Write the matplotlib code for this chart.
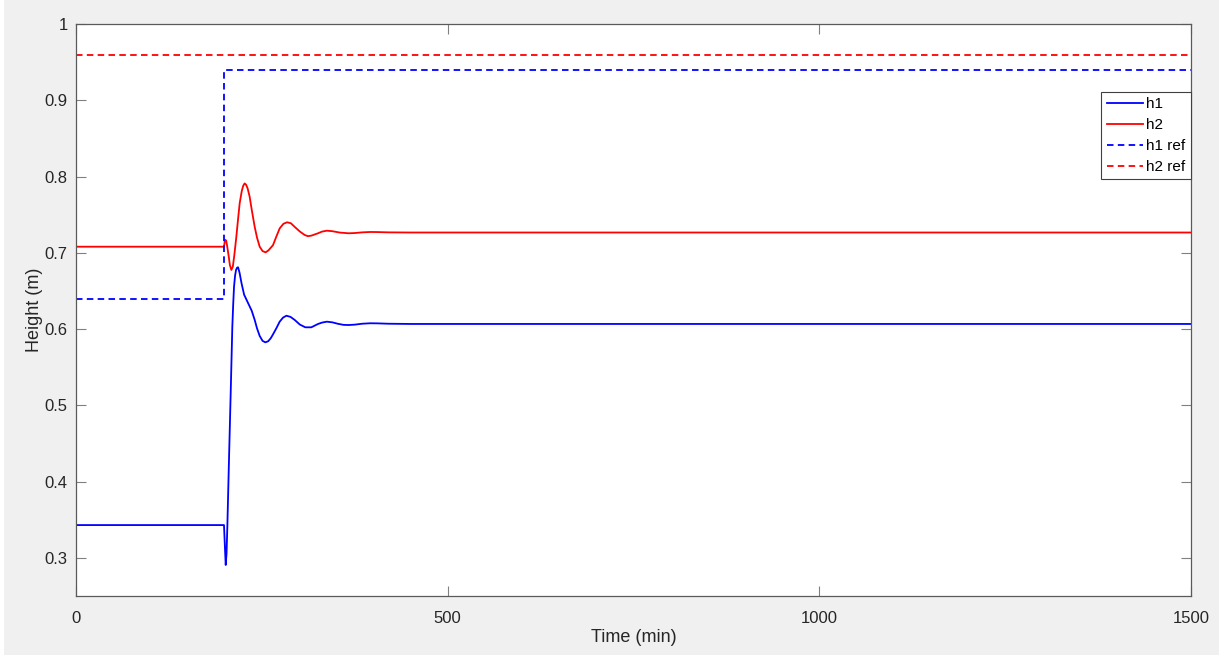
import matplotlib.pyplot as plt
from matplotlib.patches import Rectangle

# Tank level response to a setpoint step (values in m, time in min)
t_h1 = [0, 199.1, 200.3, 201.4, 202.5, 203.6, 205.8, 208.1, 210.3, 211.5,
        212.6, 214, 215.3, 216.7, 218, 220, 222.7, 226.2, 229.6, 233, 236.4,
        240.4, 243.5, 247.1, 251, 254.7, 258.5, 262, 265, 269.5, 274, 278.5,
        283, 288.5, 294.2, 301, 308.5, 316.6, 325.6, 331, 337.5, 345, 352, 360,
        366.7, 375, 385, 395.8, 405, 420, 450, 1500]
h1 = [0.343, 0.343, 0.315, 0.2907, 0.305, 0.341, 0.428, 0.516, 0.603, 0.633,
      0.6556, 0.670, 0.6775, 0.6805, 0.681, 0.674, 0.660, 0.645, 0.638, 0.631,
      0.624, 0.612, 0.601, 0.591, 0.5845, 0.5826, 0.584, 0.588, 0.593, 0.601,
      0.6097, 0.615, 0.6175, 0.616, 0.612, 0.606, 0.6023, 0.6023, 0.6067,
      0.6085, 0.6097, 0.6088, 0.607, 0.6055, 0.6053, 0.6058, 0.607, 0.6076,
      0.6075, 0.607, 0.6067, 0.6067]

t_h2 = [0, 199.1, 200, 200.9, 202, 203, 205.5, 207, 209, 211, 213, 215.7, 218,
        220.2, 223, 225, 226.9, 229, 231, 233.6, 236.5, 240.4, 243.5, 247.1,
        251, 255.2, 259, 265, 269, 274, 279, 283.9, 289, 294.2, 301, 307.6,
        312, 316.6, 325.6, 331, 337.5, 345, 355, 366.7, 375, 385, 395.8, 405,
        420, 450, 1500]
h2 = [0.708, 0.708, 0.714, 0.717, 0.716, 0.711, 0.695, 0.684, 0.6775, 0.682,
      0.697, 0.721, 0.744, 0.765, 0.781, 0.788, 0.791, 0.789, 0.784, 0.7736,
      0.756, 0.734, 0.720, 0.708, 0.7022, 0.7006, 0.7033, 0.710, 0.720, 0.732,
      0.738, 0.740, 0.7388, 0.734, 0.728, 0.7234, 0.7218, 0.7225, 0.7256,
      0.7278, 0.729, 0.7283, 0.7265, 0.7256, 0.7259, 0.7268, 0.7273, 0.7272,
      0.7268, 0.7266, 0.7266]

t_ref1 = [0, 199, 199, 1500]
h1_ref = [0.64, 0.64, 0.94, 0.94]
t_ref2 = [0, 1500]
h2_ref = [0.96, 0.96]

plt.rcParams['font.family'] = ['Liberation Sans', 'DejaVu Sans']

fig = plt.figure(figsize=(12.25, 6.55), dpi=100, facecolor='white')
fig.patches.append(Rectangle((4 / 1225, 0), 1215 / 1225, 1, transform=fig.transFigure,
                             facecolor='#f0f0f0', edgecolor='none', zorder=-10))
ax = fig.add_axes([76 / 1225, 1 - 596 / 655, 1115 / 1225, 572 / 655])
ax.set_facecolor('white')

dash = (0, (3.6, 2.4))
ax.plot(t_h1, h1, color='#0000ff', lw=1.3, label='h1', solid_joinstyle='round')
ax.plot(t_h2, h2, color='#ff0000', lw=1.3, label='h2', solid_joinstyle='round')
ax.plot(t_ref1, h1_ref, color='#0000ff', lw=1.3, linestyle=dash, label='h1 ref')
ax.plot(t_ref2, h2_ref, color='#ff0000', lw=1.3, linestyle=dash, label='h2 ref')

ax.set_xlim(0, 1500)
ax.set_ylim(0.25, 1)
ax.set_xticks([0, 500, 1000, 1500])
ax.set_xticklabels(['0', '500', '1000', '1500'])
ax.set_yticks([0.3, 0.4, 0.5, 0.6, 0.7, 0.8, 0.9, 1.0])
ax.set_yticklabels(['0.3', '0.4', '0.5', '0.6', '0.7', '0.8', '0.9', '1'])
ax.tick_params(direction='in', length=7, width=0.8, color='#808080',
               labelcolor='#262626', labelsize=12, top=True, right=True, pad=6)
ax.tick_params(axis='x', pad=11)
for s in ax.spines.values():
    s.set_color('#5a5a5a')
    s.set_linewidth(0.9)

ax.set_xlabel('Time (min)', fontsize=13, color='#262626', labelpad=2)
ax.set_ylabel('Height (m)', fontsize=13, color='#262626', labelpad=1)

leg = ax.legend(loc='upper right', bbox_to_anchor=(1.0, 0.881), fontsize=11,
                fancybox=False, framealpha=1, edgecolor='#404040',
                handlelength=2.4, handletextpad=0.2, borderpad=0.35,
                labelspacing=0.45, borderaxespad=0)
leg.get_frame().set_linewidth(0.8)

fig.savefig('out.png', dpi=100, facecolor=fig.get_facecolor())
